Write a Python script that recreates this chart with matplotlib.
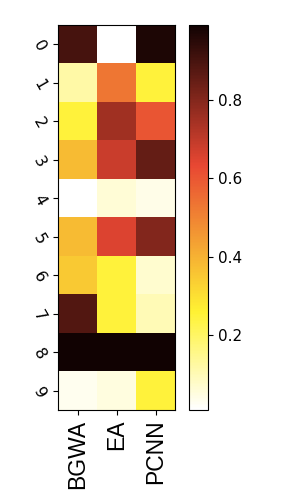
import numpy as np
import matplotlib
matplotlib.use("Agg")
import matplotlib.pyplot as plt
from matplotlib.colors import LinearSegmentedColormap

methods = ["BGWA", "EA", "PCNN"]
rows = [str(i) for i in range(10)]

bgwa = [0.90, 0.12, 0.25, 0.38, 0.01, 0.38, 0.35, 0.88, 0.99, 0.03]
ea = [0.01, 0.53, 0.75, 0.68, 0.06, 0.65, 0.25, 0.25, 0.99, 0.05]
pcnn = [0.97, 0.25, 0.60, 0.85, 0.04, 0.80, 0.07, 0.10, 0.99, 0.25]

data = np.array([bgwa, ea, pcnn]).T

# hot_r, but with the softer tones of the original
cmap = LinearSegmentedColormap.from_list("soft_hot_r", [
    (0.0, (1.0, 1.0, 1.0)),
    (0.254, (1.0, 0.95, 0.20)),
    (0.635, (0.91, 0.28, 0.20)),
    (1.0, (0.07, 0.01, 0.01)),
])

fig = plt.figure(figsize=(2.86, 5.04), dpi=100)
ax = fig.add_axes([58 / 286, 1 - 410 / 504, 117 / 286, 385 / 504])
im = ax.imshow(data, cmap=cmap, aspect="auto", interpolation="nearest")

ax.set_xticks(range(len(methods)))
ax.set_xticklabels(methods, rotation=90, fontsize=16.5, family="Liberation Sans")
ax.set_yticks(range(len(rows)))
ax.set_yticklabels(rows, rotation=-60, fontsize=11.5)

cax = fig.add_axes([189 / 286, 1 - 410 / 504, 19 / 286, 385 / 504])
cb = fig.colorbar(im, cax=cax)
cb.set_ticks([0.2, 0.4, 0.6, 0.8])
cb.ax.tick_params(labelsize=11)

fig.savefig("out.png", dpi=100)
